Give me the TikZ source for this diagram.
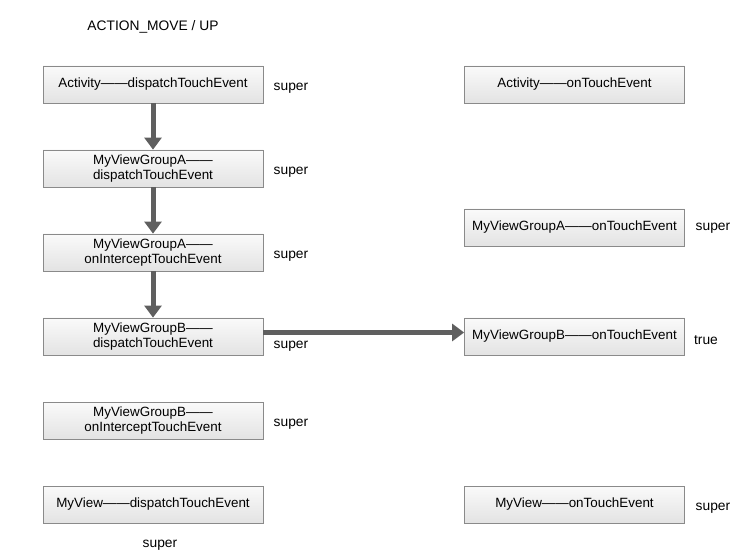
\documentclass[tikz,border=0pt]{standalone}
\usepackage{fontspec}
\setmainfont{Liberation Sans}
\usetikzlibrary{arrows.meta}
\definecolor{boxline}{HTML}{8A8A8A}
\definecolor{arrowgray}{HTML}{5F5F5F}
\tikzset{
  box/.style={draw=boxline, line width=0.8pt, top color=gray!4, bottom color=gray!22,
    minimum width=220pt, minimum height=37pt, align=center, inner sep=2pt,
    font=\fontsize{13.4}{15}\selectfont},
  lab/.style={font=\fontsize{13.8}{15}\selectfont, inner sep=0pt},
  flow/.style={draw=arrowgray, line width=5pt, -{Triangle[length=12pt,width=17pt]}, color=arrowgray}
}
\begin{document}
\begin{tikzpicture}[x=1pt,y=-1pt]
\useasboundingbox (0,0) rectangle (745,556);
\node[font=\fontsize{13.8}{15}\selectfont] (title) at (153,27) {ACTION\_MOVE / UP};
% left column
\node[box] (b1) at (153,84.5) {Activity——dispatchTouchEvent};
\node[box] (b2) at (153,168.5) {MyViewGroupA——\\dispatchTouchEvent};
\node[box] (b3) at (153,252.5) {MyViewGroupA——\\onInterceptTouchEvent};
\node[box] (b4) at (153,336.5) {MyViewGroupB——\\dispatchTouchEvent};
\node[box] (b5) at (153,420.5) {MyViewGroupB——\\onInterceptTouchEvent};
\node[box] (b6) at (153,504.5) {MyView——dispatchTouchEvent};
% right column
\node[box] (r1) at (574.5,84.5) {Activity——onTouchEvent};
\node[box] (r2) at (574.5,227.5) {MyViewGroupA——onTouchEvent};
\node[box] (r3) at (574.5,336.5) {MyViewGroupB——onTouchEvent};
\node[box] (r4) at (574.5,504.5) {MyView——onTouchEvent};
% labels
\node[lab] (l1) at (291,88) {super};
\node[lab] (l2) at (291,172) {super};
\node[lab] (l3) at (291,256) {super};
\node[lab] (l4) at (291,346) {super};
\node[lab] (l5) at (291,424) {super};
\node[lab] (l6) at (160,545) {super};
\node[lab] (m2) at (713,228) {super};
\node[lab] (m3) at (706,340) {true};
\node[lab] (m4) at (713,508) {super};
% arrows
\draw[flow] (b1.south) -- (b2.north);
\draw[flow] (b2.south) -- (b3.north);
\draw[flow] (b3.south) -- (b4.north);
\draw[flow] ([yshift=4pt]b4.east) -- ([yshift=4pt]r3.west);
\end{tikzpicture}
\end{document}
